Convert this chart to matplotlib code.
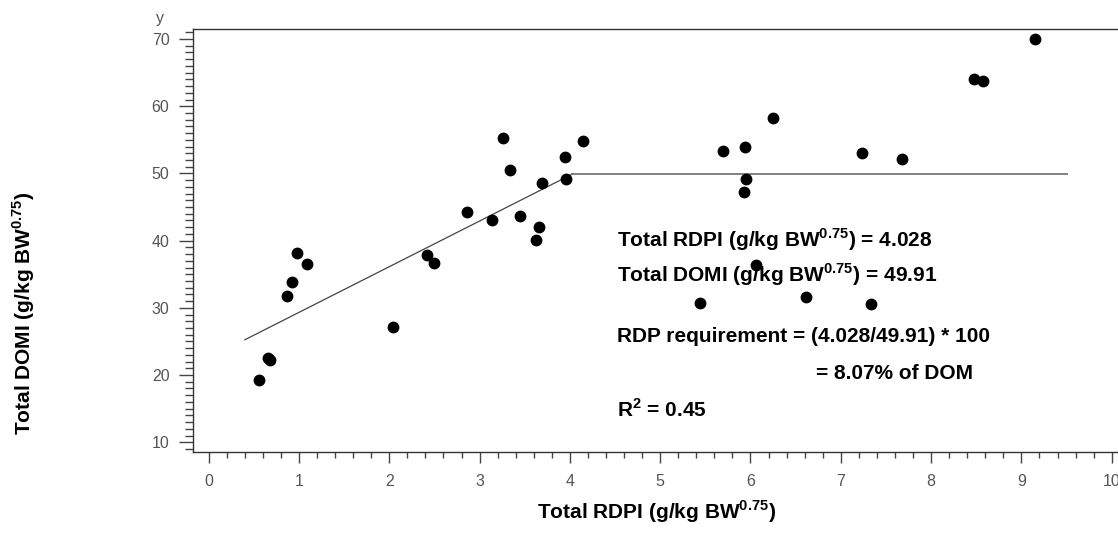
import matplotlib.pyplot as plt

plt.rcParams['font.family'] = ['Liberation Sans', 'DejaVu Sans']
plt.rcParams['mathtext.fontset'] = 'custom'
plt.rcParams['mathtext.rm'] = 'Liberation Sans:bold'
plt.rcParams['mathtext.bf'] = 'Liberation Sans:bold'

# observed points (Total RDPI vs Total DOMI)
rdpi = [0.56, 0.66, 0.68, 0.87, 0.92, 0.98, 1.09, 2.04, 2.42, 2.49, 2.86, 3.14,
        3.26, 3.34, 3.45, 3.63, 3.66, 3.69, 3.95, 3.96, 4.15, 5.44, 5.69, 5.93,
        5.94, 5.95, 6.06, 6.25, 6.61, 7.23, 7.34, 7.68, 8.47, 8.57, 9.15]
domi = [19.2, 22.6, 22.3, 31.7, 33.8, 38.1, 36.5, 27.1, 37.8, 36.6, 44.2, 43.0,
        55.3, 50.5, 43.7, 40.1, 42.1, 48.6, 52.4, 49.1, 54.8, 30.7, 53.4, 47.2,
        54.0, 49.1, 36.4, 58.2, 31.6, 53.0, 30.5, 52.2, 64.0, 63.7, 70.0]

# broken-line fit: rising segment then plateau
fit_x = [0.4, 4.028, 9.5]
fit_y = [25.25, 49.91, 49.91]

x_ticks = [0, 1, 2, 3, 4, 5, 6, 7, 8, 9, 10]
y_ticks = [10, 20, 30, 40, 50, 60, 70]

fig = plt.figure(figsize=(11.18, 5.36), dpi=100)
ax = fig.add_axes([193 / 1118, 84 / 536, (1118 - 193) / 1118, (452 - 29.3) / 536])

ax.plot(fit_x[:2], fit_y[:2], color='#444444', lw=0.9)
ax.plot(fit_x[1:], fit_y[1:], color='#777777', lw=1.3)
ax.plot(rdpi, domi, 'o', color='black', ms=7.5, zorder=3)

ax.set_xlim(-0.174, 10.07)
ax.set_ylim(8.55, 71.45)
ax.set_xticks(x_ticks)
ax.set_yticks(y_ticks)
ax.set_xticks([i * 0.2 for i in range(51)], minor=True)
ax.set_yticks(range(9, 72), minor=True)

ax.spines['right'].set_visible(False)
for s in ['left', 'bottom', 'top']:
    ax.spines[s].set_color('#333333')
    ax.spines[s].set_linewidth(1.0)

ax.tick_params(axis='both', which='major', direction='out', color='#444444',
               labelcolor='#555555', labelsize=11.5, width=1.0)
ax.tick_params(axis='x', which='major', length=8, pad=8)
ax.tick_params(axis='x', which='minor', length=4.5, width=1.0, color='#444444')
ax.tick_params(axis='y', which='major', length=10, pad=7)
ax.tick_params(axis='y', which='minor', length=5.5, width=1.0, color='#444444')

fig.text(160 / 1118, 1 - 19 / 536, 'y', color='#555555', fontsize=11.5,
         ha='center', va='center')

note_size = 15
ax.text(4.52, 40.1, r'Total RDPI (g/kg BW$^{0.75}$) = 4.028', fontsize=note_size,
        fontweight='bold', va='center')
ax.text(4.52, 35.0, r'Total DOMI (g/kg BW$^{0.75}$) = 49.91', fontsize=note_size,
        fontweight='bold', va='center')
ax.text(4.52, 25.7, 'RDP requirement = (4.028/49.91) * 100', fontsize=note_size,
        fontweight='bold', va='center')
ax.text(6.72, 20.3, '= 8.07% of DOM', fontsize=note_size,
        fontweight='bold', va='center')
ax.text(4.52, 14.8, r'R$^{2}$ = 0.45', fontsize=note_size,
        fontweight='bold', va='center')

fig.text(657 / 1118, 1 - 512 / 536, r'Total RDPI (g/kg BW$^{0.75}$)',
         fontsize=15, fontweight='bold', ha='center', va='center')
fig.text(24 / 1118, 1 - 313 / 536, r'Total DOMI (g/kg BW$^{0.75}$)',
         fontsize=15, fontweight='bold', ha='center', va='center', rotation=90)

fig.savefig('out.png', dpi=100)
